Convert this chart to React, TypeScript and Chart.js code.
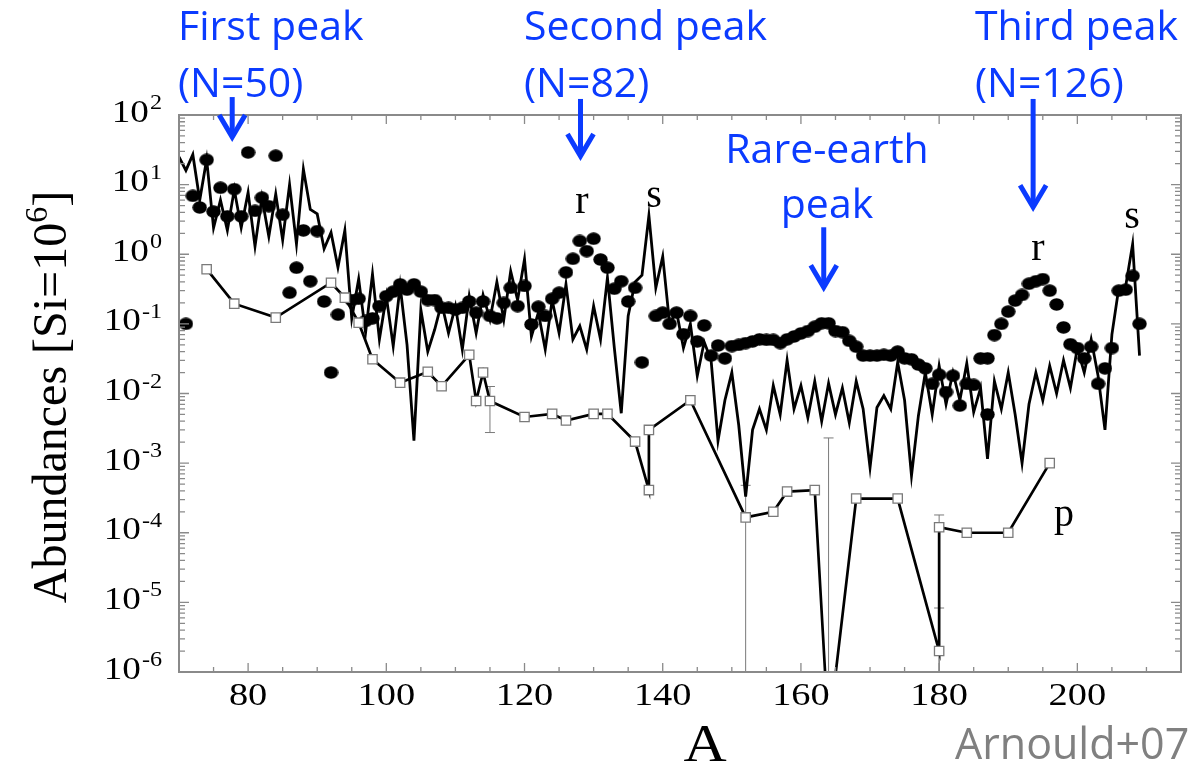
import React, { useEffect, useRef } from "react";
import { Chart, registerables } from "chart.js";

Chart.register(...registerables);

// ---- s-process contribution (one value per mass number) ----
const sProcessMass = [
  70, 71, 72, 73, 74, 75, 76, 77, 78, 79,
  80, 81, 82, 83, 84, 85, 86, 87, 88, 89,
  90, 91, 92, 93, 94, 95, 96, 97, 98, 99,
  100, 101, 102, 103, 104, 105, 106, 107, 108, 109,
  110, 111, 112, 113, 114, 115, 116, 117, 118, 119,
  120, 121, 122, 123, 124, 125, 126, 127, 128, 129,
  130, 131, 132, 133, 134, 135, 136, 137, 138, 139,
  140, 141, 142, 143, 144, 145, 146, 147, 148, 149,
  150, 151, 152, 153, 154, 155, 156, 157, 158, 159,
  160, 161, 162, 163, 164, 165, 166, 167, 168, 169,
  170, 171, 172, 173, 174, 175, 176, 177, 178, 179,
  180, 181, 182, 183, 184, 185, 186, 187, 188, 189,
  190, 191, 192, 193, 194, 195, 196, 197, 198, 199,
  200, 201, 202, 203, 204, 205, 206, 207, 208, 209,
];
const sProcessAbund = [
  25, 16, 27, 6, 23, 2.4, 6, 2.2, 8.5, 2.4,
  7.7, 1.3, 6.5, 1.8, 7.3, 1.6, 10, 1.4, 16.7, 4.4,
  3.8, 1.2, 2.05, 0.65, 2.2, 0.12, 0.44, 0.075, 0.52, 0.06,
  0.25, 0.048, 0.35, 0.05, 0.0021, 0.16, 0.04, 0.083, 0.2, 0.074,
  0.18, 0.043, 0.25, 0.074, 0.26, 0.115, 0.4, 0.115, 0.57, 0.22,
  0.85, 0.066, 0.145, 0.043, 0.22, 0.074, 0.37, 0.06, 0.093, 0.043,
  0.18, 0.06, 0.46, 0.045, 0.0052, 0.13, 0.4, 0.5, 3.6, 0.33,
  0.93, 0.1, 0.15, 0.045, 0.1, 0.018, 0.055, 0.03, 0.0021, 0.008,
  0.02, 0.0035, 0.00033, 0.003, 0.006, 0.003, 0.013, 0.005, 0.03, 0.006,
  0.013, 0.0045, 0.015, 0.004, 0.014, 0.005, 0.012, 0.0038, 0.015, 0.006,
  0.00087, 0.0063, 0.0093, 0.006, 0.028, 0.008, 0.00066, 0.0048, 0.02, 0.005,
  0.025, 0.007, 0.02, 0.008, 0.027, 0.0054, 0.012, 0.00115, 0.015, 0.006,
  0.02, 0.005, 0.001, 0.007, 0.02, 0.008, 0.025, 0.01, 0.03, 0.012,
  0.045, 0.02, 0.06, 0.018, 0.003, 0.07, 0.33, 0.35, 1.4, 0.035,
];

// ---- r-process contribution ----
const rProcessMass = [
  71, 72, 73, 74, 75, 76, 77, 78, 79,
  80, 81, 82, 83, 84, 85, 86, 87, 88, 89,
  90, 91, 92, 93, 95, 96, 97, 98, 99,
  100, 101, 102, 103, 104, 105, 106, 107, 108, 109,
  110, 111, 112, 113, 114, 115, 116, 117, 118, 119,
  120, 121, 122, 123, 124, 125, 126, 127, 128, 129,
  130, 131, 132, 133, 134, 135, 136, 137, 139,
  140, 141, 142, 143, 144, 145, 146, 147, 148, 149,
  150, 151, 152, 153, 154, 155, 156, 157, 158, 159,
  160, 161, 162, 163, 164, 165, 166, 167, 168, 169,
  170, 171, 172, 173, 174, 175, 176, 177, 178, 179,
  180, 181, 182, 183, 184, 185, 186, 187, 187, 188, 189,
  190, 191, 192, 193, 194, 195, 196, 197, 198, 199,
  200, 201, 202, 203, 204, 205, 206, 207, 208, 209,
];
const rProcessAbund = [
  0.1, 6.9, 4.7, 22.7, 4.1, 9.0, 3.5, 8.6, 3.5,
  29, 4.2, 6.5, 4.9, 26, 3.7, 0.28, 0.64, 2.2, 0.41,
  2.15, 0.21, 0.02, 0.136, 0.22, 0.23, 0.11, 0.12, 0.18,
  0.25, 0.29, 0.37, 0.31, 0.37, 0.29, 0.22, 0.22, 0.17, 0.17,
  0.16, 0.17, 0.21, 0.145, 0.21, 0.13, 0.12, 0.2, 0.33, 0.18,
  0.35, 0.098, 0.176, 0.13, 0.23, 0.28, 0.55, 0.86, 1.55, 1.11,
  1.67, 0.84, 0.64, 0.32, 0.41, 0.21, 0.33, 0.028, 0.13,
  0.145, 0.1, 0.145, 0.071, 0.13, 0.056, 0.095, 0.035, 0.049, 0.032,
  0.048, 0.05, 0.053, 0.056, 0.06, 0.059, 0.059, 0.053, 0.06, 0.066,
  0.073, 0.079, 0.091, 0.102, 0.102, 0.079, 0.076, 0.057, 0.047, 0.035,
  0.035, 0.035, 0.036, 0.035, 0.04, 0.032, 0.031, 0.026, 0.023, 0.0138,
  0.0186, 0.0105, 0.018, 0.0067, 0.0138, 0.0133, 0.032, 0.032, 0.005, 0.069, 0.1,
  0.15, 0.216, 0.26, 0.377, 0.41, 0.44, 0.3, 0.19, 0.089, 0.051,
  0.045, 0.032, 0.047, 0.0138, 0.023, 0.045, 0.3, 0.31, 0.49, 0.1,
];

// ---- p-nuclides ----
const pProcessMass = [
  74, 78, 84, 92, 94, 96, 98, 102, 106, 108, 112, 113, 114, 115,
  120, 124, 126, 130, 132, 136, 138, 138, 144, 152, 156, 158, 162, 164,
  168, 174, 180, 180, 184, 190, 196,
];
const pProcessAbund = [
  0.61, 0.195, 0.123, 0.39, 0.238, 0.104, 0.031, 0.0143, 0.0205, 0.0127, 0.036, 0.0078, 0.02, 0.0078,
  0.0046, 0.0051, 0.0041, 0.0051, 0.0051, 0.00204, 0.00041, 0.003, 0.008, 0.000166, 0.0002, 0.00039, 0.00041, 1.3e-7,
  0.00031, 0.00031, 0.000002, 0.00012, 0.0001, 0.0001, 0.001,
];

// p-nuclide uncertainty ranges
const errMass = [115, 152, 164, 180, 180];
const errLow = [0.00275, 1e-7, 1e-7, 1e-7, 1e-7];
const errHigh = [0.0126, 0.00048, 0.0023, 0.00018, 0.0000083];

// ---- axes ----
const xMin = 70;
const xMax = 215;
const yMin = 1e-6;
const yMax = 100;
const xTickLabels = [80, 100, 120, 140, 160, 180, 200];
const xMinorTicks = [75, 85, 90, 95, 105, 110, 115, 125, 130, 135, 145, 150, 155, 165, 170, 175, 185, 190, 195, 205, 210];
const yTickExponents = [2, 1, 0, -1, -2, -3, -4, -5, -6];

// ---- callouts: arrow position (mass number) with start/end abundance ----
const peakArrowMass = [77.7, 128.1, 163.3, 193.6];
const peakArrowFrom = [181, 170, 2.44, 170];
const peakArrowTo = [40.9, 21.8, 0.284, 4.02];

const BLUE = "#0b3bff";
const FRAME = "#8a8a8a";
const SERIF = '"Liberation Serif", "Times New Roman", serif';
const SANS = '"Open Sans", "Noto Sans", sans-serif';

function drawText(
  ctx: CanvasRenderingContext2D,
  text: string,
  x: number,
  y: number,
  font: string,
  color: string,
  align: "left" | "center" | "right",
  scaleX = 1
) {
  ctx.save();
  ctx.font = font;
  ctx.fillStyle = color;
  ctx.textAlign = "left";
  ctx.textBaseline = "alphabetic";
  const w = ctx.measureText(text).width * scaleX;
  const x0 = align === "center" ? x - w / 2 : align === "right" ? x - w : x;
  ctx.translate(x0, y);
  ctx.scale(scaleX, 1);
  ctx.fillText(text, 0, 0);
  ctx.restore();
  return w;
}

function makeDot() {
  const c = document.createElement("canvas");
  c.width = 15;
  c.height = 13;
  const g = c.getContext("2d")!;
  g.fillStyle = "#000";
  g.beginPath();
  g.ellipse(7.5, 6.5, 7.2, 6.2, 0, 0, Math.PI * 2);
  g.fill();
  return c;
}

const decorations = {
  id: "decorations",
  beforeDatasetsDraw(chart: any) {
    const { ctx, chartArea: a, scales } = chart;
    const x = scales.x;
    const y = scales.y;
    ctx.save();
    ctx.beginPath();
    ctx.rect(a.left, a.top, a.right - a.left, a.bottom - a.top);
    ctx.clip();
    ctx.strokeStyle = "#7a7a7a";
    ctx.lineWidth = 1;
    errMass.forEach((m, i) => {
      const px = x.getPixelForValue(m);
      const yHi = y.getPixelForValue(errHigh[i]);
      const yLo = Math.min(y.getPixelForValue(errLow[i]), a.bottom + 4);
      ctx.beginPath();
      ctx.moveTo(px, yHi);
      ctx.lineTo(px, yLo);
      ctx.moveTo(px - 5, yHi);
      ctx.lineTo(px + 5, yHi);
      if (yLo < a.bottom) {
        ctx.moveTo(px - 5, yLo);
        ctx.lineTo(px + 5, yLo);
      }
      ctx.stroke();
    });
    ctx.restore();
  },
  afterDraw(chart: any) {
    const { ctx, chartArea: a, scales } = chart;
    const x = scales.x;
    const y = scales.y;
    ctx.save();

    // frame
    ctx.strokeStyle = FRAME;
    ctx.lineWidth = 2;
    ctx.strokeRect(a.left, a.top, a.right - a.left, a.bottom - a.top);

    // inward tick marks on all four sides
    ctx.lineWidth = 1.3;
    ctx.beginPath();
    const tickX = (v: number, len: number) => {
      const px = x.getPixelForValue(v);
      ctx.moveTo(px, a.bottom);
      ctx.lineTo(px, a.bottom - len);
      ctx.moveTo(px, a.top);
      ctx.lineTo(px, a.top + len);
    };
    const tickY = (v: number, len: number) => {
      const py = y.getPixelForValue(v);
      ctx.moveTo(a.left, py);
      ctx.lineTo(a.left + len, py);
      ctx.moveTo(a.right, py);
      ctx.lineTo(a.right - len, py);
    };
    xTickLabels.forEach((v) => tickX(v, 9));
    xMinorTicks.forEach((v) => tickX(v, 5));
    yTickExponents.forEach((e) => {
      tickY(Math.pow(10, e), 10);
      if (e < 2) {
        for (let m = 2; m <= 9; m++) tickY(m * Math.pow(10, e), 6);
      }
    });
    ctx.stroke();

    // x tick labels
    xTickLabels.forEach((v) => {
      drawText(ctx, String(v), x.getPixelForValue(v), 705, `32px ${SERIF}`, "#000", "center", 1.2);
    });

    // y tick labels: 10 with a raised exponent
    yTickExponents.forEach((e) => {
      const py = y.getPixelForValue(Math.pow(10, e));
      ctx.font = `21px ${SERIF}`;
      const wExp = ctx.measureText(String(e)).width * 1.15;
      ctx.font = `31px ${SERIF}`;
      const wMain = ctx.measureText("10").width * 1.2;
      const right = 162;
      drawText(ctx, String(e), right - wExp, py - 6, `21px ${SERIF}`, "#000", "left", 1.15);
      drawText(ctx, "10", right - wExp - wMain - 1, py + 6.5, `31px ${SERIF}`, "#000", "left", 1.2);
    });

    // axis titles
    drawText(ctx, "A", 705, 761, `52px ${SERIF}`, "#000", "center", 1.15);

    ctx.save();
    ctx.translate(66, 397);
    ctx.rotate(-Math.PI / 2);
    ctx.fillStyle = "#000";
    ctx.font = `48px ${SERIF}`;
    const t1 = "Abundances [Si=10";
    const w1 = ctx.measureText(t1).width;
    const w3 = ctx.measureText("]").width;
    ctx.font = `32px ${SERIF}`;
    const w2 = ctx.measureText("6").width;
    let sx = -(w1 + w2 + w3) / 2;
    ctx.font = `48px ${SERIF}`;
    ctx.fillText(t1, sx, 0);
    sx += w1;
    ctx.font = `32px ${SERIF}`;
    ctx.fillText("6", sx, -19);
    sx += w2;
    ctx.font = `48px ${SERIF}`;
    ctx.fillText("]", sx, 0);
    ctx.restore();

    // process labels
    drawText(ctx, "r", 582, 213, `40px ${SERIF}`, "#000", "center");
    drawText(ctx, "s", 654, 207, `40px ${SERIF}`, "#000", "center");
    drawText(ctx, "r", 1038, 260, `40px ${SERIF}`, "#000", "center");
    drawText(ctx, "s", 1132, 228, `40px ${SERIF}`, "#000", "center");
    drawText(ctx, "p", 1064, 526, `40px ${SERIF}`, "#000", "center");

    // peak callouts
    const f = `41px ${SANS}`;
    drawText(ctx, "First peak", 178, 40, f, BLUE, "left");
    drawText(ctx, "(N=50)", 178, 97, f, BLUE, "left");
    drawText(ctx, "Second peak", 524, 40, f, BLUE, "left");
    drawText(ctx, "(N=82)", 524, 97, f, BLUE, "left");
    drawText(ctx, "Rare-earth", 827, 163, f, BLUE, "center");
    drawText(ctx, "peak", 827, 218, f, BLUE, "center");
    drawText(ctx, "Third peak", 975, 40, f, BLUE, "left");
    drawText(ctx, "(N=126)", 975, 97, f, BLUE, "left");

    ctx.strokeStyle = BLUE;
    ctx.lineWidth = 5;
    ctx.lineJoin = "miter";
    ctx.lineCap = "butt";
    peakArrowMass.forEach((m, i) => {
      const px = x.getPixelForValue(m);
      const y0 = y.getPixelForValue(peakArrowFrom[i]);
      const tip = y.getPixelForValue(peakArrowTo[i]) - 5;
      ctx.beginPath();
      ctx.moveTo(px, y0);
      ctx.lineTo(px, tip - 2);
      ctx.stroke();
      ctx.beginPath();
      ctx.moveTo(px - 13, tip - 22);
      ctx.lineTo(px, tip);
      ctx.lineTo(px + 13, tip - 22);
      ctx.stroke();
    });

    // citation
    drawText(ctx, "Arnould+07", 955, 759, `43px ${SANS}`, "#808080", "left");

    ctx.restore();
  },
};

export default function App() {
  const ref = useRef<HTMLCanvasElement>(null);

  useEffect(() => {
    if (!ref.current) return;
    const toPoints = (xs: number[], ys: number[]) => xs.map((m, i) => ({ x: m, y: ys[i] }));
    const chart = new Chart(ref.current, {
      type: "line",
      data: {
        datasets: [
          {
            label: "s-process",
            data: toPoints(sProcessMass, sProcessAbund),
            borderColor: "#000",
            borderWidth: 2.8,
            pointRadius: 0,
            tension: 0,
            clip: 0,
            order: 3,
          },
          {
            label: "r-process",
            data: toPoints(rProcessMass, rProcessAbund),
            showLine: false,
            pointStyle: makeDot() as any,
            pointRadius: 7,
            clip: 0,
            order: 2,
          },
          {
            label: "p-process",
            data: toPoints(pProcessMass, pProcessAbund),
            borderColor: "#000",
            borderWidth: 2.7,
            pointStyle: "rect",
            pointRadius: 6.6,
            pointBackgroundColor: "#fff",
            pointBorderColor: "#7a7a7a",
            pointBorderWidth: 1.3,
            tension: 0,
            clip: 0,
            order: 1,
          },
        ] as any,
      },
      options: {
        animation: false,
        responsive: false,
        devicePixelRatio: 1,
        layout: { padding: { left: 179, right: 11, top: 115, bottom: 92 } },
        plugins: { legend: { display: false }, tooltip: { enabled: false } },
        events: [],
        scales: {
          x: { type: "linear", min: xMin, max: xMax, display: false },
          y: { type: "logarithmic", min: yMin, max: yMax, display: false },
        },
      },
      plugins: [decorations],
    });
    return () => chart.destroy();
  }, []);

  return (
    <div style={{ position: "fixed", left: 0, top: 0, width: 1192, height: 764, background: "#fff" }}>
      <canvas ref={ref} width={1192} height={764} style={{ display: "block", width: 1192, height: 764 }} />
    </div>
  );
}
